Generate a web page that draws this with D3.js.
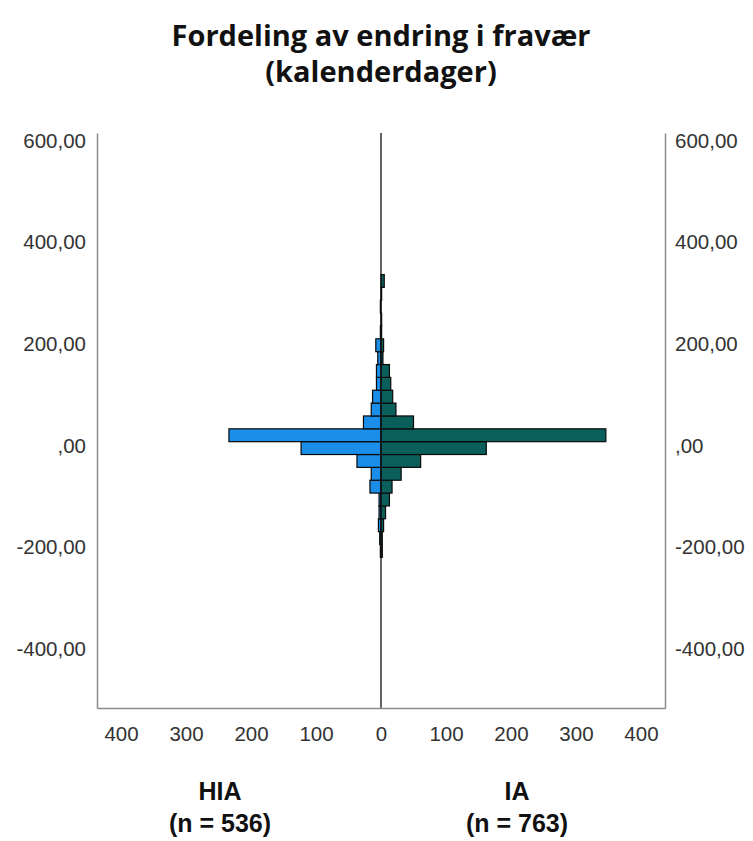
<!DOCTYPE html>
<html>
<head>
<meta charset="utf-8">
<script src="https://cdn.jsdelivr.net/npm/d3@7"></script>
<style>
  html, body { margin: 0; padding: 0; background: #ffffff; }
  svg { display: block; }
</style>
</head>
<body>
<svg id="chart" width="753" height="841"></svg>
<script>
// ---- Data ----
const titleLines = ["Fordeling av endring i fravær", "(kalenderdager)"];
const groups = ["HIA", "IA"];
const groupN = ["(n = 536)", "(n = 763)"];
const binWidth = 25.3;
const binLower = [-220.2, -194.9, -169.6, -144.3, -119.0, -93.7, -68.4, -43.1, -17.8, 7.5,
                  32.8, 58.1, 83.4, 108.7, 134.0, 159.3, 184.6, 209.9, 235.2, 260.5, 285.8, 311.1];
const hiaCounts = [1, 2, 4, 3, 3, 17, 15, 37, 123, 234, 27, 15, 13, 7, 7, 5, 8, 1, 0, 1, 0, 0];
const iaCounts  = [2, 2, 4, 7, 13, 17, 31, 61, 162, 346, 50, 23, 18, 15, 13, 3, 4, 1, 1, 0, 1, 5];
const xTicks = [-400, -300, -200, -100, 0, 100, 200, 300, 400];
const yTicks = [-400, -200, 0, 200, 400, 600];

// ---- Layout ----
const plot = { left: 97, right: 665, top: 133, bottom: 708 };
const svg = d3.select("#chart");

const x = d3.scaleLinear().domain([-437, 437]).range([plot.left, plot.right]);
const y = d3.scaleLinear().domain([-516.7, 615]).range([plot.bottom, plot.top]);

const fmtY = v => v === 0 ? ",00" : v.toFixed(2).replace(".", ",");

// Title
svg.append("g").selectAll("text").data(titleLines).join("text")
  .attr("x", 381).attr("y", (d, i) => 46 + i * 36)
  .attr("text-anchor", "middle")
  .attr("font-family", "'Open Sans', sans-serif")
  .attr("font-weight", 700).attr("font-size", 29)
  .attr("fill", "#111")
  .text(d => d);

// Bars
const bins = binLower.map((lo, i) => ({ lo, hi: lo + binWidth, hia: hiaCounts[i], ia: iaCounts[i] }));
const barG = svg.append("g");
barG.selectAll("rect.hia").data(bins.filter(d => d.hia > 0)).join("rect")
  .attr("class", "hia")
  .attr("x", d => x(-d.hia)).attr("width", d => x(0) - x(-d.hia))
  .attr("y", d => y(d.hi)).attr("height", d => y(d.lo) - y(d.hi))
  .attr("fill", "#1a8ee8").attr("stroke", "#0a0a0a").attr("stroke-width", 1.2);
barG.selectAll("rect.ia").data(bins.filter(d => d.ia > 0)).join("rect")
  .attr("class", "ia")
  .attr("x", x(0)).attr("width", d => x(d.ia) - x(0))
  .attr("y", d => y(d.hi)).attr("height", d => y(d.lo) - y(d.hi))
  .attr("fill", "#0a5f5b").attr("stroke", "#0a0a0a").attr("stroke-width", 1.2);

// Centre line
svg.append("line")
  .attr("x1", x(0)).attr("x2", x(0))
  .attr("y1", plot.top).attr("y2", plot.bottom)
  .attr("stroke", "#111").attr("stroke-width", 1.3);

// Axes
const axisFont = g => g.selectAll("text")
  .attr("font-family", "'Liberation Sans', Arial, sans-serif")
  .attr("font-size", 20.5).attr("fill", "#333");

const gx = svg.append("g").attr("transform", `translate(0,${plot.bottom})`)
  .call(d3.axisBottom(x).tickValues(xTicks).tickFormat(v => Math.abs(v)).tickSize(0).tickPadding(18));
gx.select(".domain").attr("stroke", "#8a8a8a").attr("stroke-width", 1.5);
gx.call(axisFont);

const gyl = svg.append("g").attr("transform", `translate(${plot.left},0)`)
  .call(d3.axisLeft(y).tickValues(yTicks).tickFormat(fmtY).tickSize(0).tickPadding(11));
gyl.select(".domain").attr("stroke", "#8a8a8a").attr("stroke-width", 1.5);
gyl.call(axisFont);

const gyr = svg.append("g").attr("transform", `translate(${plot.right},0)`)
  .call(d3.axisRight(y).tickValues(yTicks).tickFormat(fmtY).tickSize(0).tickPadding(10));
gyr.select(".domain").attr("stroke", "#8a8a8a").attr("stroke-width", 1.5);
gyr.call(axisFont);

// Group labels
const groupX = [220, 517];
const gl = svg.append("g").attr("font-family", "'Liberation Sans', Arial, sans-serif")
  .attr("font-weight", 700).attr("font-size", 25).attr("fill", "#111").attr("text-anchor", "middle");
gl.selectAll("text.name").data(groups).join("text").attr("class", "name")
  .attr("x", (d, i) => groupX[i]).attr("y", 800).text(d => d);
gl.selectAll("text.n").data(groupN).join("text").attr("class", "n")
  .attr("x", (d, i) => groupX[i]).attr("y", 832).text(d => d);
</script>
</body>
</html>
